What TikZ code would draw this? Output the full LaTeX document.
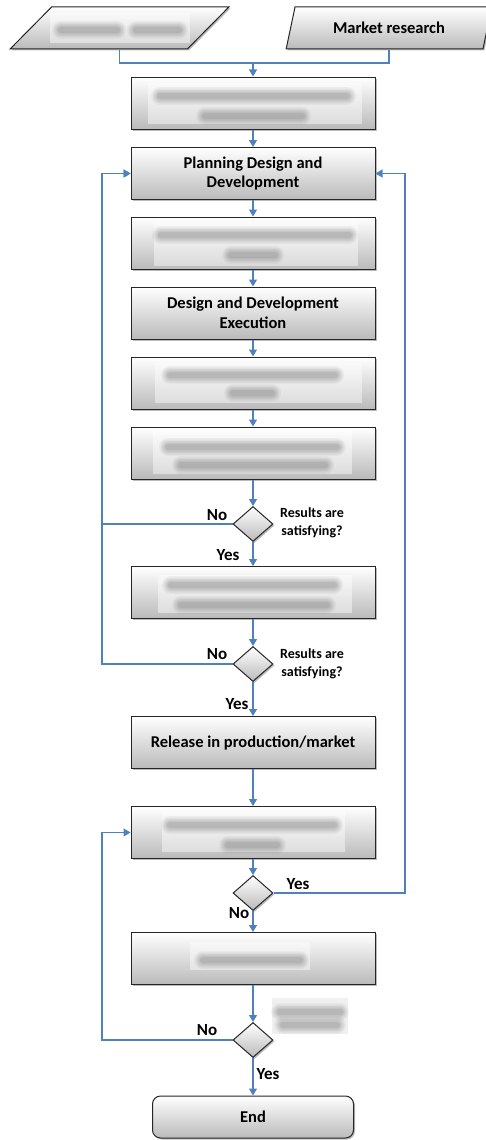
\documentclass[tikz,border=0pt]{standalone}
\usepackage{fontspec}
\setmainfont{Carlito}
\usetikzlibrary{arrows.meta,shapes.geometric,shadows}
\definecolor{flowblue}{RGB}{79,129,189}
\def\smudge(#1,#2)(#3){%
	\foreach \r/\o in {9/0.07, 7.5/0.09, 6/0.11, 4.5/0.13, 3/0.15}
		\fill[black!55, opacity=\o, rounded corners=\r pt] (#1+3-\r, #3-\r) rectangle (#2-3+\r, #3+\r);}
\def\patch(#1,#2)(#3,#4){\fill[white, opacity=0.45] (#1,#2) rectangle (#3,#4);}

\begin{document}
\begin{tikzpicture}[x=1pt, y=-1pt,
	shade box/.style={draw=black!85, line width=1pt, top color=white, bottom color=black!27,
		drop shadow={shadow xshift=1.5pt, shadow yshift=-1.5pt, fill=black!45, opacity=0.6}},
	box/.style={shade box, rectangle, minimum width=244pt, minimum height=52pt,
		align=center, font=\fontsize{16.5}{19.5}\selectfont\bfseries},
	inbox/.style={shade box, trapezium, trapezium left angle=73, trapezium right angle=107,
		trapezium stretches=true, minimum height=42pt, font=\fontsize{16.5}{19.5}\selectfont\bfseries},
	decision/.style={shade box, diamond, inner sep=0pt, minimum width=40pt, minimum height=35pt},
	endbox/.style={shade box, rectangle, rounded corners=8pt, minimum width=201pt, minimum height=42pt,
		font=\fontsize{16.5}{19.5}\selectfont\bfseries},
	tag/.style={font=\fontsize{17}{20}\selectfont\bfseries, inner sep=0pt},
	query/.style={font=\fontsize{14}{18}\selectfont\bfseries, align=center, inner sep=0pt},
	link/.style={draw=flowblue, line width=1.2pt},
	flow/.style={link, -{Triangle[width=8pt,length=7pt]}}]
	%%%%% START %%%%%
	\useasboundingbox (0,0) rectangle (486,1140);
	
	% inputs
	\node[inbox, minimum width=219pt] (request) at (119.5,28) {};
	\node[inbox, minimum width=206pt] (market) at (389,28) {Market research};
	
	% main column
	\node[box] (assign) at (253,103) {};
	\node[box] (plan) at (253,173.5) {Planning Design and\\Development};
	\node[box] (prepare) at (253,243) {};
	\node[box] (exec) at (253,313) {Design and Development\\Execution};
	\node[box] (output) at (253,383) {};
	\node[box] (verify) at (253,453) {};
	\node[decision] (check1) at (253,524) {};
	\node[box] (valid) at (253,592.5) {};
	\node[decision] (check2) at (253,664) {};
	\node[box] (release) at (253,742.5) {Release in production/market};
	\node[box] (change) at (253,832.5) {};
	\node[decision] (check3) at (253,893) {};
	\node[box] (close) at (253,958.5) {};
	\node[decision] (check4) at (253,1040) {};
	\node[endbox] (finish) at (253,1117) {End};
	
	% labels
	\node[tag] (no1) at (217,515) {No};
	\node[tag] (yes1) at (228,555) {Yes};
	\node[query] (query1) at (312,522.5) {Results are\\satisfying?};
	\node[tag] (no2) at (217,654) {No};
	\node[tag] (yes2) at (237,704) {Yes};
	\node[query] (query2) at (312,663.5) {Results are\\satisfying?};
	\node[tag] (yes3) at (298,884) {Yes};
	\node[tag] (no3) at (239,913) {No};
	\node[tag] (no4) at (207,1030) {No};
	\node[tag] (yes4) at (268,1074) {Yes};
	
	% connectors
	\coordinate (merge) at (253,63);
	\coordinate (leftrail) at (102,0);
	\coordinate (rightrail) at (405,0);
	\draw[link] (request.south) |- (merge) -| (market.south);
	\draw[flow] (merge) -- (assign);
	\foreach \a/\b in {assign/plan, plan/prepare, prepare/exec, exec/output, output/verify,
		verify/check1, check1/valid, valid/check2, check2/release, release/change,
		change/check3, check3/close, close/check4, check4/finish}
		\draw[flow] (\a) -- (\b);
	\draw[flow] (check1.west) -- (check1.west -| leftrail) |- (plan.west);
	\draw[flow] (check2.west) -- (check2.west -| leftrail) |- (plan.west);
	\draw[flow] (check3.east) -- (check3.east -| rightrail) |- (plan.east);
	\draw[flow] (check4.west) -- (check4.west -| leftrail) |- (change.west);
	
	% blurred texts
	\patch(50,13)(190,43); \smudge(58,120)(30); \smudge(133,182)(30);
	\patch(148,83)(362,124); \smudge(157,350)(96); \smudge(202,305)(116);
	\patch(154,222)(358,266); \smudge(158,352)(235); \smudge(228,278)(255);
	\patch(155,363)(362,403); \smudge(167,338)(375); \smudge(230,275)(393);
	\patch(153,430)(352,474); \smudge(165,340)(447); \smudge(178,328)(465);
	\patch(158,575)(352,613); \smudge(168,337)(585); \smudge(178,330)(605);
	\patch(162,812)(345,852); \smudge(167,337)(825); \smudge(225,280)(845);
	\patch(190,942)(310,970); \smudge(200,303)(960);
	\fill[black!6] (272,998) rectangle (348,1034); \smudge(277,343)(1012); \smudge(280,340)(1025);
	
	%%%%% END %%%%%
\end{tikzpicture}
\end{document}
